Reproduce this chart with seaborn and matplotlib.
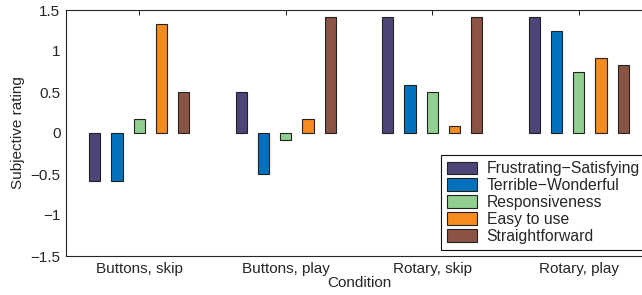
import pandas
import seaborn
import matplotlib
matplotlib.use("Agg")
import matplotlib.pyplot

conditions = ["Buttons, skip", "Buttons, play", "Rotary, skip", "Rotary, play"]
measures = ["Frustrating\u2212Satisfying", "Terrible\u2212Wonderful", "Responsiveness",
            "Easy to use", "Straightforward"]
frustratingSatisfying = [-0.58, 0.50, 1.42, 1.42]
terribleWonderful = [-0.58, -0.50, 0.58, 1.25]
responsiveness = [0.17, -0.08, 0.50, 0.75]
easyToUse = [1.33, 0.17, 0.08, 0.92]
straightforward = [0.50, 1.42, 1.42, 0.83]
colours = ["#4b4677", "#0072bd", "#90cf8f", "#f68b1f", "#8b5344"]

series = [frustratingSatisfying, terribleWonderful, responsiveness, easyToUse, straightforward]
rows = []
for measure, values in zip(measures, series):
	for condition, value in zip(conditions, values):
		rows.append({"Condition": condition, "Measure": measure, "Rating": value})
data = pandas.DataFrame(rows)

seaborn.set_style("white")
matplotlib.pyplot.rcParams["font.family"] = ["Liberation Sans", "DejaVu Sans"]
matplotlib.pyplot.rcParams["font.size"] = 11

fig = matplotlib.pyplot.figure(figsize=(6.42, 2.95), dpi=100)
ax = fig.add_axes([66 / 642, 39 / 295, 586 / 642, 246 / 295])

seaborn.barplot(data=data, x="Condition", y="Rating", hue="Measure", order=conditions,
	hue_order=measures, palette=colours, saturation=1, width=0.76, gap=0.49,
	edgecolor="#222222", linewidth=0.8, errorbar=None, ax=ax)

ax.set_xlim(-0.5, 3.5)
ax.set_ylim(-1.5, 1.5)
ax.set_yticks([-1.5, -1, -0.5, 0, 0.5, 1, 1.5])
ax.set_yticklabels(["\u22121.5", "\u22121", "\u22120.5", "0", "0.5", "1", "1.5"])
ax.set_xlabel("Condition", fontsize=11, labelpad=0, color="#262626")
ax.set_ylabel("Subjective rating", fontsize=11, labelpad=4, color="#262626")
ax.tick_params(direction="in", length=3.5, width=0.75, top=True, right=True,
	labelsize=11, labelcolor="#262626", colors="#262626", pad=4)
for spine in ax.spines.values():
	spine.set_visible(True)
	spine.set_color("#262626")
	spine.set_linewidth(0.8)

# legend sits in the lower right, its right edge runs off the figure like the original
legend = ax.legend(loc="lower left", bbox_to_anchor=(0.64, 0.024), fontsize=11.3,
	frameon=True, fancybox=False, edgecolor="#111111", framealpha=1,
	handlelength=1.9, handleheight=0.85, handletextpad=0.6, labelspacing=0.12,
	borderpad=0.4, borderaxespad=0)
legend.get_frame().set_linewidth(0.8)

fig.savefig("out.png", dpi=100)
